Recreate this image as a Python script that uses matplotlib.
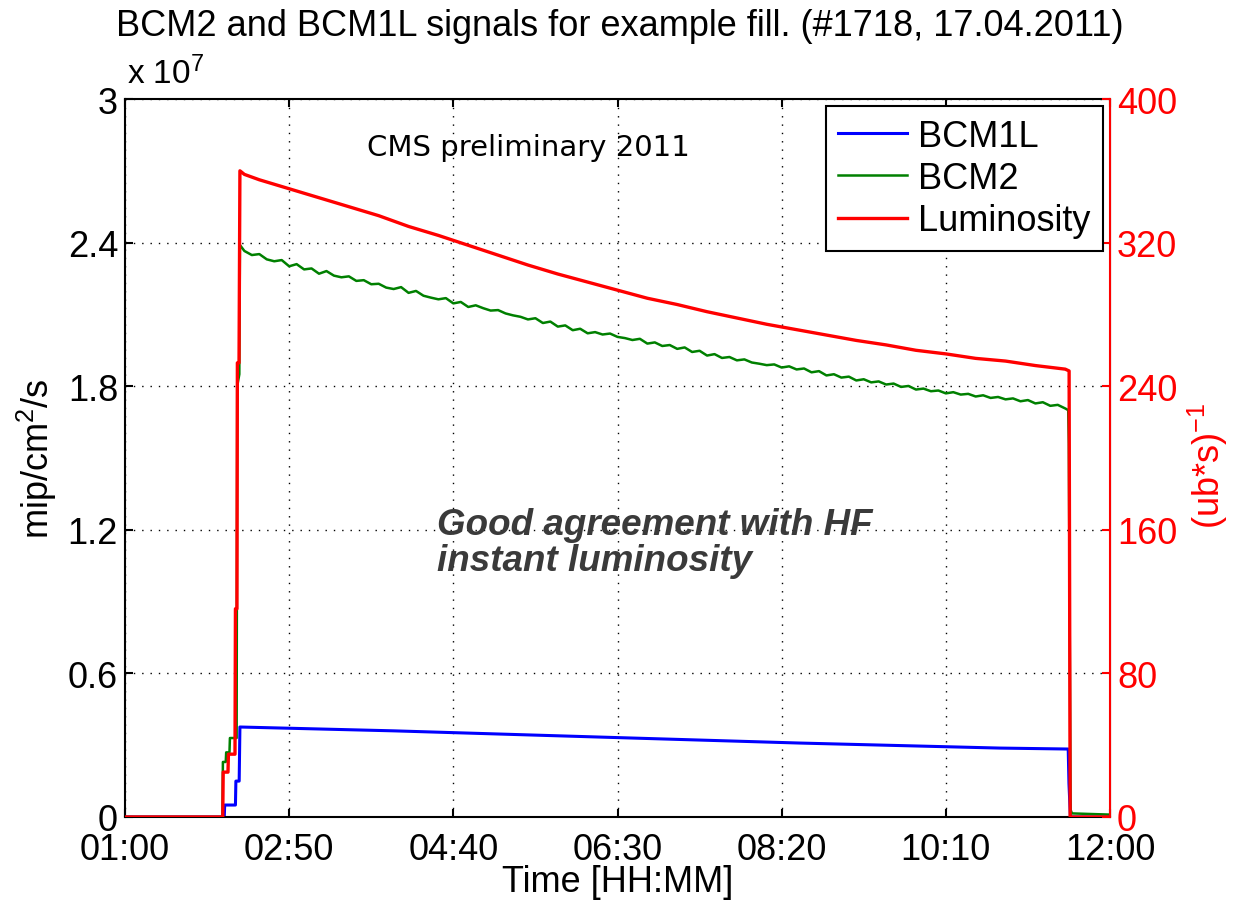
import matplotlib
matplotlib.use("Agg")
import matplotlib.pyplot as plt
from matplotlib.ticker import FuncFormatter

# time in minutes since midnight
t_lumi = [60, 125.5, 125.8, 129, 129.3, 133.7, 134, 135, 135.3, 136.4, 137,
          140, 150, 170, 190, 210, 230, 250, 270, 290, 310, 330, 350, 370,
          390, 410, 430, 450, 470, 490, 510, 530, 550, 570, 590, 610, 630,
          650, 670, 690, 692.6, 693.3, 720]
lumi = [0, 0, 25, 25, 35, 35, 116, 116, 253, 253, 360,
        358, 355, 350, 345, 340, 335, 329, 324, 318.5, 313, 307.5, 302.5, 298,
        293.5, 289, 285.5, 281.5, 278, 274.5, 271.5, 268.5, 265.5, 263, 260, 258, 255.5,
        254, 251.5, 249.5, 248.5, 0, 0]

t_bcm2 = [60, 125.3, 125.6, 127.5, 127.8, 130, 130.3, 134.8, 135.2, 136.6, 137,
          140, 145, 150, 155, 160, 165, 170, 175, 180, 185, 190, 195, 200, 205,
          210, 215, 220, 225, 230, 235, 240, 245, 250, 255, 260, 265, 270, 275,
          280, 285, 290, 295, 300, 305, 310, 315, 320, 325, 330, 335, 340, 345,
          350, 355, 360, 365, 370, 375, 380, 385, 390, 395, 400, 405, 410, 415,
          420, 425, 430, 435, 440, 445, 450, 455, 460, 465, 470, 475, 480, 485,
          490, 495, 500, 505, 510, 515, 520, 525, 530, 535, 540, 545, 550, 555,
          560, 565, 570, 575, 580, 585, 590, 595, 600, 605, 610, 615, 620, 625,
          630, 635, 640, 645, 650, 655, 660, 665, 670, 675, 680, 685, 690,
          692, 692.4, 693, 693.6, 694.5, 720]
bcm2 = [0, 0, 0.23e7, 0.23e7, 0.27e7, 0.27e7, 0.33e7, 0.33e7, 1.80e7, 1.85e7, 2.39e7,
        2.365e7, 2.348e7, 2.352e7, 2.330e7, 2.322e7, 2.327e7, 2.301e7, 2.310e7, 2.288e7,
        2.292e7, 2.270e7, 2.281e7, 2.262e7, 2.255e7, 2.259e7, 2.240e7, 2.243e7, 2.226e7,
        2.228e7, 2.212e7, 2.206e7, 2.214e7, 2.190e7, 2.198e7, 2.178e7, 2.170e7, 2.163e7,
        2.168e7, 2.146e7, 2.152e7, 2.131e7, 2.138e7, 2.126e7, 2.116e7, 2.118e7, 2.104e7,
        2.096e7, 2.090e7, 2.079e7, 2.084e7, 2.064e7, 2.070e7, 2.049e7, 2.054e7, 2.034e7,
        2.040e7, 2.021e7, 2.026e7, 2.016e7, 2.020e7, 2.006e7, 2.001e7, 1.993e7, 1.998e7,
        1.978e7, 1.983e7, 1.968e7, 1.972e7, 1.956e7, 1.962e7, 1.943e7, 1.948e7, 1.928e7,
        1.934e7, 1.918e7, 1.922e7, 1.908e7, 1.912e7, 1.899e7, 1.894e7, 1.888e7, 1.891e7,
        1.878e7, 1.883e7, 1.870e7, 1.874e7, 1.858e7, 1.863e7, 1.845e7, 1.850e7, 1.836e7,
        1.840e7, 1.824e7, 1.829e7, 1.816e7, 1.820e7, 1.807e7, 1.811e7, 1.797e7, 1.801e7,
        1.786e7, 1.790e7, 1.779e7, 1.782e7, 1.770e7, 1.775e7, 1.765e7, 1.768e7, 1.757e7,
        1.762e7, 1.751e7, 1.755e7, 1.745e7, 1.749e7, 1.737e7, 1.742e7, 1.728e7, 1.733e7,
        1.718e7, 1.722e7, 1.707e7,
        1.700e7, 1.56e7, 0.75e7, 0.03e7, 0.015e7, 0.01e7]

t_bcm1l = [60, 126.5, 126.8, 134, 134.3, 136.5, 137, 240, 378, 512, 646, 692,
           692.5, 693.5, 720]
bcm1l = [0, 0, 0.05e7, 0.05e7, 0.15e7, 0.15e7, 0.376e7, 0.36e7, 0.334e7, 0.309e7,
         0.288e7, 0.284e7, 0.14e7, 0, 0]

x_ticks = [60, 170, 280, 390, 500, 610, 720]
x_labels = ["01:00", "02:50", "04:40", "06:30", "08:20", "10:10", "12:00"]
left_ticks = [0, 0.6e7, 1.2e7, 1.8e7, 2.4e7, 3.0e7]
right_ticks = [0, 80, 160, 240, 320, 400]

plt.rcParams["font.family"] = ["Liberation Sans", "DejaVu Sans"]
plt.rcParams["mathtext.fontset"] = "custom"
plt.rcParams["mathtext.rm"] = "Liberation Sans"
plt.rcParams["mathtext.it"] = "Liberation Sans"

FS = 26

fig = plt.figure(figsize=(12.34, 9.03), dpi=100)
ax = fig.add_axes([125 / 1234, 85 / 903, 985 / 1234, 718 / 903])
ax2 = ax.twinx()

l1, = ax.plot(t_bcm1l, bcm1l, color="#0000ff", lw=2.2, label="BCM1L")
l2, = ax.plot(t_bcm2, bcm2, color="#008000", lw=1.8, label="BCM2")
l3, = ax2.plot(t_lumi, lumi, color="#ff0000", lw=2.4, label="Luminosity")

ax.set_xlim(60, 720)
ax.set_ylim(0, 3e7)
ax2.set_ylim(0, 400)

ax.set_xticks(x_ticks)
ax.set_xticklabels(x_labels)
ax.set_yticks(left_ticks)
ax.yaxis.set_major_formatter(FuncFormatter(lambda v, p: "%g" % round(v / 1e7, 2)))
ax2.set_yticks(right_ticks)

ax.grid(True, color="black", linestyle=(0, (1, 5)), linewidth=1.0)
ax.tick_params(axis="both", direction="in", length=6, width=1.5,
               labelsize=FS, top=True, pad=5)
ax.tick_params(axis="x", pad=11)
ax.tick_params(axis="y", right=False)
ax2.tick_params(axis="y", direction="in", length=6, width=1.5, colors="#ff0000",
                labelsize=FS, pad=5)

for s in ["left", "top", "bottom"]:
    ax.spines[s].set_linewidth(1.5)
ax2.spines["right"].set_color("#ff0000")
ax2.spines["right"].set_linewidth(1.5)
for s in ["left", "top", "bottom"]:
    ax2.spines[s].set_visible(False)

ax.set_xlabel("Time [HH:MM]", fontsize=FS, labelpad=-2)
ax.set_ylabel("mip/cm$^2$/s", fontsize=FS, labelpad=6)
ax2.set_ylabel("(ub*s)$^{-1}$", fontsize=FS, color="#ff0000")
ax2.yaxis.set_label_coords(1.077, 0.49)

fig.text(620 / 1234, 1 - 27 / 903, "BCM2 and BCM1L signals for example fill. (#1718, 17.04.2011)",
         fontsize=FS, ha="center", va="center")
ax.text(0.002, 1.012, "x 10$^7$", transform=ax.transAxes, fontsize=24,
        ha="left", va="bottom")

ax.text(330, 2.8e7, "CMS preliminary 2011", fontsize=21, family="DejaVu Sans",
        ha="center", va="center")
ax2.text(269, 153, "Good agreement with HF\ninstant luminosity", fontsize=26.5,
         fontweight="bold", fontstyle="italic", color="#3a3a3a",
         ha="left", va="center", linespacing=1.05)

leg = ax2.legend([l1, l2, l3], ["BCM1L", "BCM2", "Luminosity"], loc="upper right",
                 fontsize=FS, fancybox=False, framealpha=1, edgecolor="black",
                 borderaxespad=0.2, handlelength=1.9, handletextpad=0.3,
                 labelspacing=0.2, borderpad=0.35)
leg.get_frame().set_linewidth(1.5)

fig.savefig("out.png", dpi=100)
